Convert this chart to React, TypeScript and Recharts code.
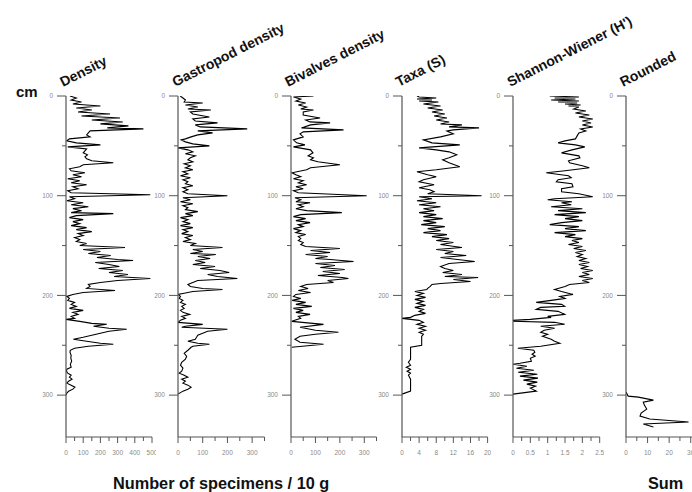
import React from 'react';
import { LineChart, Line, XAxis, YAxis } from 'recharts';

// [depth cm, value]
const densitySamples: [number, number][] = [
  [0, 23], [2, 60], [4, 30], [6, 90], [8, 40], [10, 200], [12, 60], [14, 150], [16, 70], [18, 256],
  [20, 90], [22, 314], [24, 150], [26, 330], [28, 200], [30, 363], [32, 240], [33, 450], [35, 140], [37, 130],
  [39, 120], [41, 140], [43, 20], [45, 5], [47, 60], [49, 200], [51, 10], [53, 120], [55, 110], [57, 100],
  [59, 125], [61, 110], [63, 120], [65, 150], [67, 275], [69, 100], [71, 80], [73, 20], [75, 30], [77, 110],
  [79, 40], [81, 90], [83, 10], [85, 80], [87, 30], [89, 120], [91, 40], [93, 70], [95, 10], [97, 30],
  [99, 490], [101, 20], [103, 50], [105, 5], [107, 100], [109, 30], [111, 130], [113, 40], [115, 90], [117, 30],
  [118, 275], [120, 60], [122, 20], [124, 100], [126, 40], [128, 80], [130, 30], [132, 120], [134, 60], [136, 150],
  [138, 70], [140, 100], [142, 50], [144, 80], [146, 60], [148, 120], [150, 80], [152, 343], [154, 100], [156, 200],
  [158, 130], [160, 260], [162, 180], [164, 300], [165, 390], [167, 170], [169, 250], [171, 310], [173, 190], [175, 330],
  [177, 250], [179, 360], [181, 280], [183, 490], [185, 300], [187, 200], [189, 130], [191, 140], [193, 120], [195, 285],
  [197, 100], [199, 40], [201, 5], [203, 20], [205, 10], [207, 50], [209, 30], [211, 60], [213, 20], [215, 100],
  [217, 40], [219, 70], [221, 30], [223, 50], [224, 0], [226, 80], [228, 150], [229, 237], [231, 160], [233, 250],
  [234, 353], [236, 250], [238, 200], [240, 150], [242, 100], [244, 43], [246, 120], [248, 200], [249, 275], [251, 130],
  [253, 50], [255, 25], [257, 23], [260, 30], [263, 28], [266, 33], [269, 25], [272, 30], [274, 5], [276, 3],
  [278, 10], [280, 30], [282, 20], [284, 35], [286, 15], [288, 5], [290, 30], [292, 52], [294, 40], [296, 15],
  [298, 5], [300, 0],
];

const gastropodSamples: [number, number][] = [
  [0, 9], [2, 20], [4, 30], [6, 25], [7, 100], [9, 30], [11, 80], [13, 40], [14, 133], [16, 50],
  [18, 60], [21, 127], [23, 60], [25, 70], [27, 160], [29, 70], [31, 90], [33, 280], [35, 80], [37, 140],
  [39, 80], [41, 53], [43, 30], [44, 13], [46, 30], [48, 60], [50, 127], [52, 0], [54, 40], [56, 60],
  [58, 30], [60, 70], [62, 50], [64, 40], [66, 60], [68, 25], [70, 50], [72, 30], [74, 60], [76, 20],
  [78, 40], [80, 10], [82, 50], [84, 20], [86, 40], [88, 30], [90, 60], [92, 20], [94, 40], [96, 20],
  [98, 40], [100, 200], [102, 20], [104, 50], [106, 10], [108, 60], [110, 20], [112, 40], [114, 30], [116, 80],
  [118, 30], [120, 60], [122, 10], [124, 40], [126, 20], [128, 50], [130, 10], [132, 60], [134, 20], [136, 40],
  [138, 15], [140, 60], [142, 30], [144, 50], [146, 20], [148, 70], [150, 50], [152, 180], [154, 60], [156, 100],
  [158, 50], [159, 153], [161, 80], [163, 130], [165, 70], [167, 110], [169, 60], [171, 150], [173, 90], [175, 170],
  [177, 207], [179, 120], [181, 160], [183, 240], [185, 80], [187, 60], [189, 40], [191, 50], [193, 100], [194, 180],
  [196, 60], [198, 20], [199, 0], [201, 10], [203, 5], [205, 20], [207, 10], [209, 30], [211, 15], [213, 25],
  [215, 10], [217, 20], [219, 47], [221, 15], [223, 30], [225, 10], [227, 0], [229, 100], [231, 30], [232, 15],
  [234, 200], [236, 120], [238, 100], [240, 80], [242, 75], [244, 70], [246, 40], [248, 80], [249, 127], [251, 60],
  [252, 53], [255, 40], [258, 25], [261, 35], [264, 30], [267, 15], [270, 10], [273, 20], [276, 15], [278, 5],
  [280, 25], [282, 40], [284, 15], [286, 30], [288, 20], [290, 40], [292, 53], [294, 40], [296, 20], [299, 0],
];

const bivalveSamples: [number, number][] = [
  [0, 92], [1, 10], [3, 40], [5, 20], [7, 60], [9, 30], [11, 64], [13, 40], [14, 92], [16, 50],
  [19, 50], [22, 119], [24, 60], [26, 78], [27, 160], [29, 80], [32, 43], [34, 215], [36, 50], [38, 37],
  [41, 50], [44, 10], [47, 23], [49, 57], [51, 10], [54, 80], [57, 90], [60, 70], [62, 92], [64, 80],
  [66, 110], [69, 200], [72, 80], [74, 64], [77, 4], [79, 20], [81, 40], [83, 10], [85, 50], [87, 30],
  [89, 64], [91, 20], [93, 50], [95, 10], [97, 30], [100, 310], [102, 16], [104, 40], [106, 20], [107, 78],
  [109, 30], [111, 50], [113, 20], [115, 64], [117, 208], [119, 40], [121, 10], [123, 60], [125, 20], [127, 78],
  [129, 30], [131, 50], [133, 10], [135, 40], [137, 20], [139, 60], [141, 30], [143, 40], [145, 30], [147, 50],
  [149, 40], [151, 60], [153, 200], [155, 80], [157, 160], [159, 60], [161, 150], [163, 100], [164, 160], [166, 256],
  [168, 100], [170, 180], [172, 120], [174, 220], [176, 130], [178, 200], [180, 110], [182, 210], [183, 235], [185, 150],
  [187, 174], [189, 64], [191, 40], [193, 70], [195, 30], [197, 80], [199, 20], [201, 10], [203, 40], [205, 5],
  [207, 60], [209, 20], [211, 85], [213, 10], [215, 50], [217, 20], [219, 78], [221, 30], [223, 40], [226, 3],
  [229, 133], [232, 37], [235, 100], [237, 194], [239, 100], [241, 37], [244, 16], [247, 37], [249, 133], [252, 3],
];

const taxaSamples: [number, number][] = [
  [0, 3.5], [1, 4], [2, 8], [3, 3.5], [4, 7], [5, 4], [6, 8.5], [8, 5], [10, 9], [12, 6],
  [14, 9.5], [16, 7], [18, 10], [20, 7.5], [22, 10.5], [24, 8], [26, 11], [28, 9], [29, 14], [31, 11],
  [32, 18], [34, 12], [35, 10.5], [38, 12], [41, 9], [44, 5], [47, 7], [49, 13.5], [52, 4], [54, 8],
  [56, 11], [59, 12.8], [62, 11], [64, 9.5], [67, 11], [71, 13.5], [74, 8], [76, 3.5], [79, 6], [81, 8],
  [84, 5], [86, 4], [89, 7.5], [92, 4], [94, 6.5], [96, 7.5], [98, 6], [100, 18.6], [101, 4], [103, 7],
  [105, 3.5], [107, 8], [109, 4], [111, 9], [113, 5], [115, 7.5], [117, 4], [119, 8], [121, 5], [123, 9.5],
  [125, 5], [127, 8], [129, 4.5], [131, 10], [133, 6], [135, 9], [137, 5], [139, 10.5], [141, 7], [143, 11],
  [145, 8], [147, 12], [149, 9], [152, 14], [154, 8], [156, 12], [158, 10], [160, 15], [162, 9], [164, 13],
  [166, 17], [168, 11], [171, 9], [173, 10], [175, 12], [177, 9.5], [179, 14], [181, 10], [182, 17.8], [184, 12],
  [186, 16], [188, 9], [189, 7], [191, 6.6], [193, 6], [194, 5.8], [196, 3], [198, 5], [200, 3.5], [202, 5.5],
  [204, 3], [206, 5], [208, 3.5], [210, 5.5], [212, 3], [214, 5], [216, 4], [218, 5.5], [220, 3], [222, 2],
  [223, 0], [225, 4], [227, 5], [229, 3.5], [231, 5.5], [233, 4], [235, 5.5], [237, 4], [239, 5], [241, 4.6],
  [244, 4.6], [247, 4.6], [250, 4.6], [252, 2], [256, 2], [260, 2], [264, 2], [267, 1.5], [270, 2], [272, 1],
  [274, 2], [276, 1.2], [278, 2], [280, 1.5], [284, 2], [288, 2], [292, 2], [296, 2], [299, 0],
];

const shannonSamples: [number, number][] = [
  [0, 1.06], [1, 1.9], [2, 1.2], [3, 1.8], [4, 1.1], [5, 1.9], [6, 1.3], [7, 1.85], [8, 1.5], [9, 1.95],
  [10, 1.6], [11, 1.9], [13, 1.75], [15, 2.1], [17, 1.8], [19, 2.2], [21, 1.9], [23, 2.3], [25, 2.0], [27, 2.25],
  [29, 2.0], [31, 2.3], [33, 1.95], [35, 2.1], [37, 1.9], [40, 1.85], [43, 1.8], [45, 1.5], [47, 1.3], [49, 1.8],
  [51, 2.07], [54, 1.7], [57, 1.4], [60, 1.9], [62, 1.93], [65, 1.6], [67, 1.63], [70, 2.0], [72, 2.2], [75, 1.5],
  [77, 0.96], [80, 1.6], [82, 1.68], [84, 1.3], [86, 1.25], [88, 1.7], [91, 1.73], [93, 1.4], [96, 1.4], [98, 1.9],
  [101, 2.3], [103, 1.2], [104, 1.0], [106, 1.7], [107, 1.4], [109, 1.68], [111, 1.1], [113, 2.0], [115, 1.3], [117, 2.1],
  [119, 1.2], [121, 1.9], [123, 1.5], [125, 2.0], [127, 1.4], [129, 1.06], [131, 1.9], [133, 1.5], [135, 2.1], [137, 1.2],
  [139, 1.8], [141, 1.5], [143, 2.0], [145, 1.7], [147, 1.9], [149, 1.6], [151, 2.0], [153, 1.75], [155, 2.1], [157, 1.8],
  [159, 2.0], [161, 1.85], [163, 2.1], [165, 1.9], [167, 2.2], [169, 1.9], [171, 2.15], [173, 1.95], [175, 2.3], [177, 2.0],
  [179, 2.2], [181, 1.9], [183, 2.3], [185, 2.0], [187, 2.2], [189, 1.63], [191, 1.5], [194, 1.2], [196, 1.4], [199, 1.73],
  [201, 1.35], [203, 1.5], [205, 1.1], [207, 0.67], [209, 1.4], [211, 1.49], [212, 0.8], [214, 0.67], [216, 1.3], [219, 1.49],
  [221, 1.0], [222, 1.1], [224, 0.5], [225, 0], [226, 0], [227, 1.2], [229, 1.49], [231, 0.8], [233, 1.2], [235, 0.9],
  [237, 0.8], [239, 1.0], [241, 0.85], [244, 1.1], [246, 1.2], [248, 1.35], [251, 0.8], [253, 0.14], [255, 0.6], [257, 0.63],
  [259, 0.55], [261, 0.64], [263, 0.5], [266, 0.53], [268, 0.2], [269, 0], [271, 0.4], [273, 0.1], [275, 0.6], [277, 0.15],
  [279, 0.7], [281, 0.2], [283, 0.72], [285, 0.3], [287, 0.7], [289, 0.4], [291, 0.65], [293, 0.5], [296, 0.67], [299, 0],
];

const roundedSamples: [number, number][] = [
  [297, 0], [301, 1], [302, 5.7], [305, 12.7], [307, 8], [310, 8.5], [314, 9.6], [318, 7], [321, 6.5], [324, 11],
  [327, 29], [329, 8], [332, 12.7],
];

const panelTitles = ['Density', 'Gastropod density', 'Bivalves density', 'Taxa (S)', "Shannon-Wiener (H')", 'Rounded'];

const depthTicks = [0, 50, 100, 150, 200, 250, 300];
const depthLabels = [0, 100, 200, 300];

const densityTicks = [0, 50, 100, 150, 200, 250, 300, 350, 400, 450, 500];
const densityLabels = [0, 100, 200, 300, 400, 500];
const shellTicks = [0, 50, 100, 150, 200, 250, 300, 350];
const shellLabels = [0, 100, 200, 300];
const taxaTicks = [0, 2, 4, 6, 8, 10, 12, 14, 16, 18, 20];
const taxaLabels = [0, 4, 8, 12, 16, 20];
const shannonTicks = [0, 0.25, 0.5, 0.75, 1, 1.25, 1.5, 1.75, 2, 2.25, 2.5];
const shannonLabels = [0, 0.5, 1, 1.5, 2, 2.5];
const roundedTicks = [0, 5, 10, 15, 20, 25, 30, 35, 40];
const roundedLabels = [0, 10, 20, 30];

const FONT = '"Liberation Sans", Arial, sans-serif';
const AXIS = '#555';
const TICK_TEXT = '#8a8a8a';
const TOP = 96;
const PLOT_H = 341;
const Y_W = 40;
const MARGIN_TOP = 10;

const toRows = (s: [number, number][]) => s.map(([depth, value]) => ({ depth, value }));

const panels = [
  { title: panelTitles[0], rows: toRows(densitySamples), domain: [0, 500], ticks: densityTicks, labels: densityLabels, axisX: 66, len: 86 },
  { title: panelTitles[1], rows: toRows(gastropodSamples), domain: [0, 350], ticks: shellTicks, labels: shellLabels, axisX: 178.3, len: 86.5 },
  { title: panelTitles[2], rows: toRows(bivalveSamples), domain: [0, 350], ticks: shellTicks, labels: shellLabels, axisX: 291, len: 85.5 },
  { title: panelTitles[3], rows: toRows(taxaSamples), domain: [0, 20], ticks: taxaTicks, labels: taxaLabels, axisX: 401.7, len: 85.6 },
  { title: panelTitles[4], rows: toRows(shannonSamples), domain: [0, 2.5], ticks: shannonTicks, labels: shannonLabels, axisX: 513.3, len: 86.7 },
  { title: panelTitles[5], rows: toRows(roundedSamples), domain: [0, 40], ticks: roundedTicks, labels: roundedLabels, axisX: 626, len: 86.3 },
];

const DepthTick = (props: any) => {
  const { x, y, payload } = props;
  const major = depthLabels.includes(payload.value);
  return (
    <g>
      <line x1={x - (major ? 9 : 4)} x2={x} y1={y} y2={y} stroke={AXIS} strokeWidth={1} />
      {major && (
        <text x={x - 13} y={y} dy={2.3} textAnchor="end" fontSize={6.5} fill={TICK_TEXT} fontFamily={FONT}>
          {payload.value}
        </text>
      )}
    </g>
  );
};

const makeValueTick = (labels: number[]) => (props: any) => {
  const { x, y, payload } = props;
  const major = labels.includes(payload.value);
  return (
    <g>
      <line x1={x} x2={x} y1={y} y2={y + (major ? 6 : 4)} stroke={AXIS} strokeWidth={1} />
      {major && (
        <text x={x} y={y + 18} textAnchor="middle" fontSize={6.5} fill={TICK_TEXT} fontFamily={FONT}>
          {payload.value}
        </text>
      )}
    </g>
  );
};

function Panel({ p }: { p: (typeof panels)[number] }) {
  return (
    <div style={{ position: 'absolute', left: p.axisX - Y_W, top: TOP - MARGIN_TOP }}>
      <LineChart
        width={Y_W + p.len + 4}
        height={MARGIN_TOP + PLOT_H + 30}
        data={p.rows}
        layout="vertical"
        margin={{ top: MARGIN_TOP, right: 4, left: 0, bottom: 0 }}
      >
        <XAxis
          type="number"
          dataKey="value"
          domain={p.domain}
          ticks={p.ticks}
          interval={0}
          height={30}
          tickSize={0}
          tickMargin={0}
          tickLine={false}
          axisLine={{ stroke: AXIS, strokeWidth: 1.2 }}
          tick={makeValueTick(p.labels)}
          allowDataOverflow
        />
        <YAxis
          type="number"
          dataKey="depth"
          domain={[0, 342]}
          ticks={depthTicks}
          interval={0}
          width={Y_W}
          tickSize={0}
          tickMargin={0}
          tickLine={false}
          axisLine={{ stroke: AXIS, strokeWidth: 1.2 }}
          tick={<DepthTick />}
          allowDataOverflow
        />
        <Line
          type="linear"
          dataKey="value"
          stroke="#000"
          strokeWidth={1.1}
          dot={false}
          isAnimationActive={false}
        />
      </LineChart>
    </div>
  );
}

export default function App() {
  return (
    <div
      style={{
        position: 'absolute',
        left: 0,
        top: 0,
        width: 692,
        height: 492,
        overflow: 'hidden',
        background: '#fff',
        fontFamily: FONT,
      }}
    >
      {panels.map((p) => (
        <Panel key={p.title} p={p} />
      ))}
      <svg width={692} height={492} style={{ position: 'absolute', left: 0, top: 0, pointerEvents: 'none' }}>
        {panels.map((p) => (
          <text
            key={p.title}
            x={p.axisX - 3}
            y={87}
            transform={`rotate(-27 ${p.axisX - 3} 87)`}
            fontSize={14}
            fontWeight="bold"
            fill="#111"
            fontFamily={FONT}
          >
            {p.title}
          </text>
        ))}
        <text x={16} y={97} fontSize={15} fontWeight="bold" fill="#111" fontFamily={FONT}>
          cm
        </text>
        <text x={113} y={489} fontSize={16.3} fontWeight="bold" fill="#111" fontFamily={FONT}>
          Number of specimens / 10 g
        </text>
        <text x={648} y={489} fontSize={16.3} fontWeight="bold" fill="#111" fontFamily={FONT}>
          Sum
        </text>
      </svg>
    </div>
  );
}
